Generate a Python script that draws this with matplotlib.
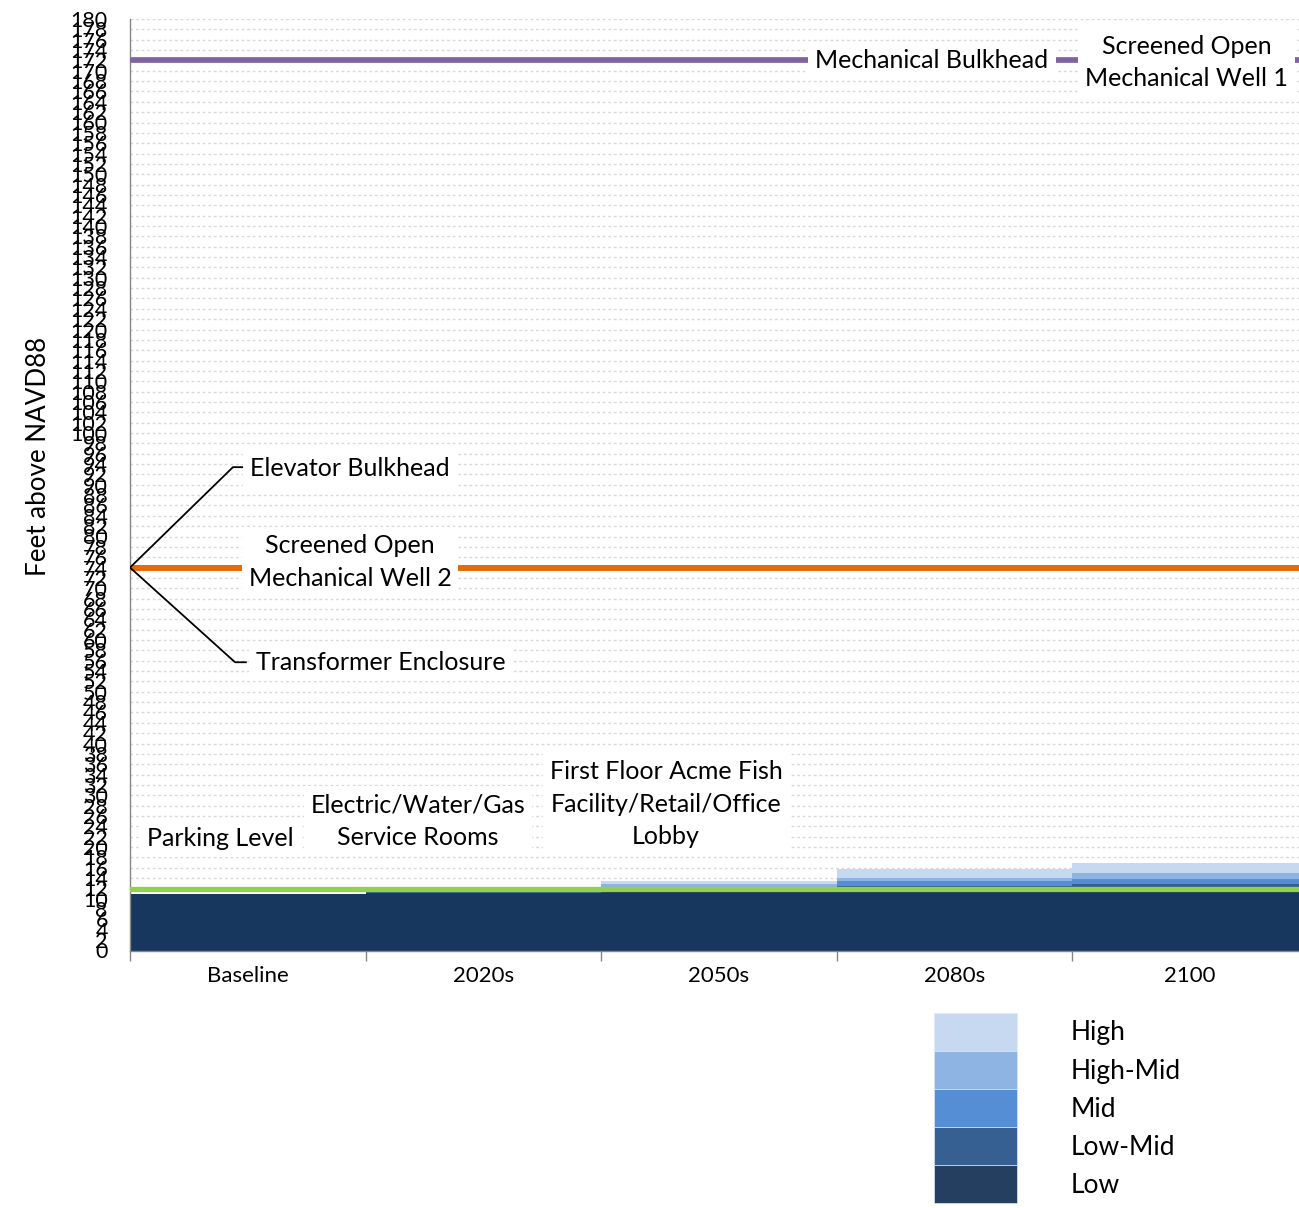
import numpy as np
import matplotlib
matplotlib.use("Agg")
import matplotlib.pyplot as plt
from matplotlib.patches import Patch

plt.rcParams['font.family'] = ['Lato', 'DejaVu Sans']

periods = ['Baseline', '2020s', '2050s', '2080s', '2100']
scenarios = ['Low', 'Low-Mid', 'Mid', 'High-Mid', 'High']

# flood elevation (feet above NAVD88) reached by each scenario, per period
low = [11.0, 11.1, 11.6, 12.1, 12.3]
low_mid = [11.0, 11.3, 11.9, 12.5, 12.9]
mid = [11.0, 11.5, 12.3, 13.4, 13.9]
high_mid = [11.0, 11.6, 12.9, 14.0, 15.0]
high = [11.0, 11.8, 13.4, 15.7, 17.0]

bar_colors = ['#17375e', '#366092', '#558ed5', '#8eb4e3', '#c6d9f1']
legend_colors = ['#243f60', '#366092', '#558ed5', '#8eb4e3', '#c6d9f1']

# building levels
first_floor_level = 11.8
mech_well2_level = 74
bulkhead_level = 172

# (text, x, y, ha)
labels = [
    ('Mechanical Bulkhead', 2.904, 172.0, 'center'),
    ('Screened Open\nMechanical Well 1', 3.986, 171.6, 'center'),
    ('Elevator Bulkhead', 0.009, 93.2, 'left'),
    ('Screened Open\nMechanical Well 2', 0.434, 75.1, 'center'),
    ('Transformer Enclosure', 0.035, 55.6, 'left'),
    ('Parking Level', -0.118, 21.7, 'center'),
    ('Electric/Water/Gas\nService Rooms', 0.722, 25.0, 'center'),
    ('First Floor Acme Fish\nFacility/Retail/Office\nLobby', 1.775, 28.3, 'center'),
]

W, H = 1299, 1208
fig = plt.figure(figsize=(W / 100, H / 100), dpi=100)
ax = fig.add_axes([130 / W, 1 - 950.5 / H, 1178 / W, 931.5 / H])

x = np.arange(len(periods))
bottom = np.zeros(len(periods))
for top, c in zip([low, low_mid, mid, high_mid, high], bar_colors):
    top = np.array(top)
    ax.bar(x, top - bottom, width=1.0, bottom=bottom, color=c, linewidth=0, zorder=2)
    bottom = top

ax.axhline(first_floor_level, color='#92d050', lw=3.8, zorder=3)
ax.axhline(mech_well2_level, color='#e36c09', lw=4.3, zorder=3)
ax.axhline(bulkhead_level, color='#8064a2', lw=4.1, zorder=3)

# leader lines from the well 2 level to the other roof labels
ax.plot([-0.5, -0.063, -0.020], [mech_well2_level, 93.4, 93.4], color='black', lw=1.3, zorder=4)
ax.plot([-0.5, -0.054, -0.008], [mech_well2_level, 55.7, 55.7], color='black', lw=1.3, zorder=4)

for txt, lx, ly, ha in labels:
    ax.text(lx, ly, txt, ha=ha, va='center', fontsize=18, linespacing=1.52, zorder=5,
            bbox=dict(facecolor='white', edgecolor='none', pad=5))

ax.set_xlim(-0.5, 4.5)
ax.set_ylim(0, 180)
ax.set_yticks(np.arange(0, 181, 2))
ax.tick_params(axis='y', length=0, pad=16, labelsize=15.5)
ax.set_xticks(x)
ax.set_xticklabels(periods)
ax.set_xticks(np.arange(-0.5, 5, 1), minor=True)
ax.tick_params(axis='x', which='major', length=0, pad=11, labelsize=16)
ax.tick_params(axis='x', which='minor', length=7, color='#868686', width=1)

ax.yaxis.grid(True, color='#d9d9d9', linestyle=(0, (2, 2)), lw=1)
ax.set_axisbelow(True)
for s in ['top', 'right']:
    ax.spines[s].set_visible(False)
for s in ['left', 'bottom']:
    ax.spines[s].set_color('#868686')
    ax.spines[s].set_linewidth(1)

fig.text(39 / W, 1 - 456 / H, 'Feet above NAVD88', rotation=90, ha='center', va='center', fontsize=18.7)

handles = [Patch(facecolor=c, edgecolor='#e0e8f2', lw=0.5, label=s)
           for s, c in zip(scenarios, legend_colors)][::-1]
fig.legend(handles=handles, loc='upper left', bbox_to_anchor=(934 / W, 1 - 1013 / H),
           frameon=False, fontsize=19, handlelength=3.14, handleheight=1.84,
           labelspacing=0, handletextpad=2.05, borderpad=0, borderaxespad=0)

fig.savefig('out.png', dpi=100)
